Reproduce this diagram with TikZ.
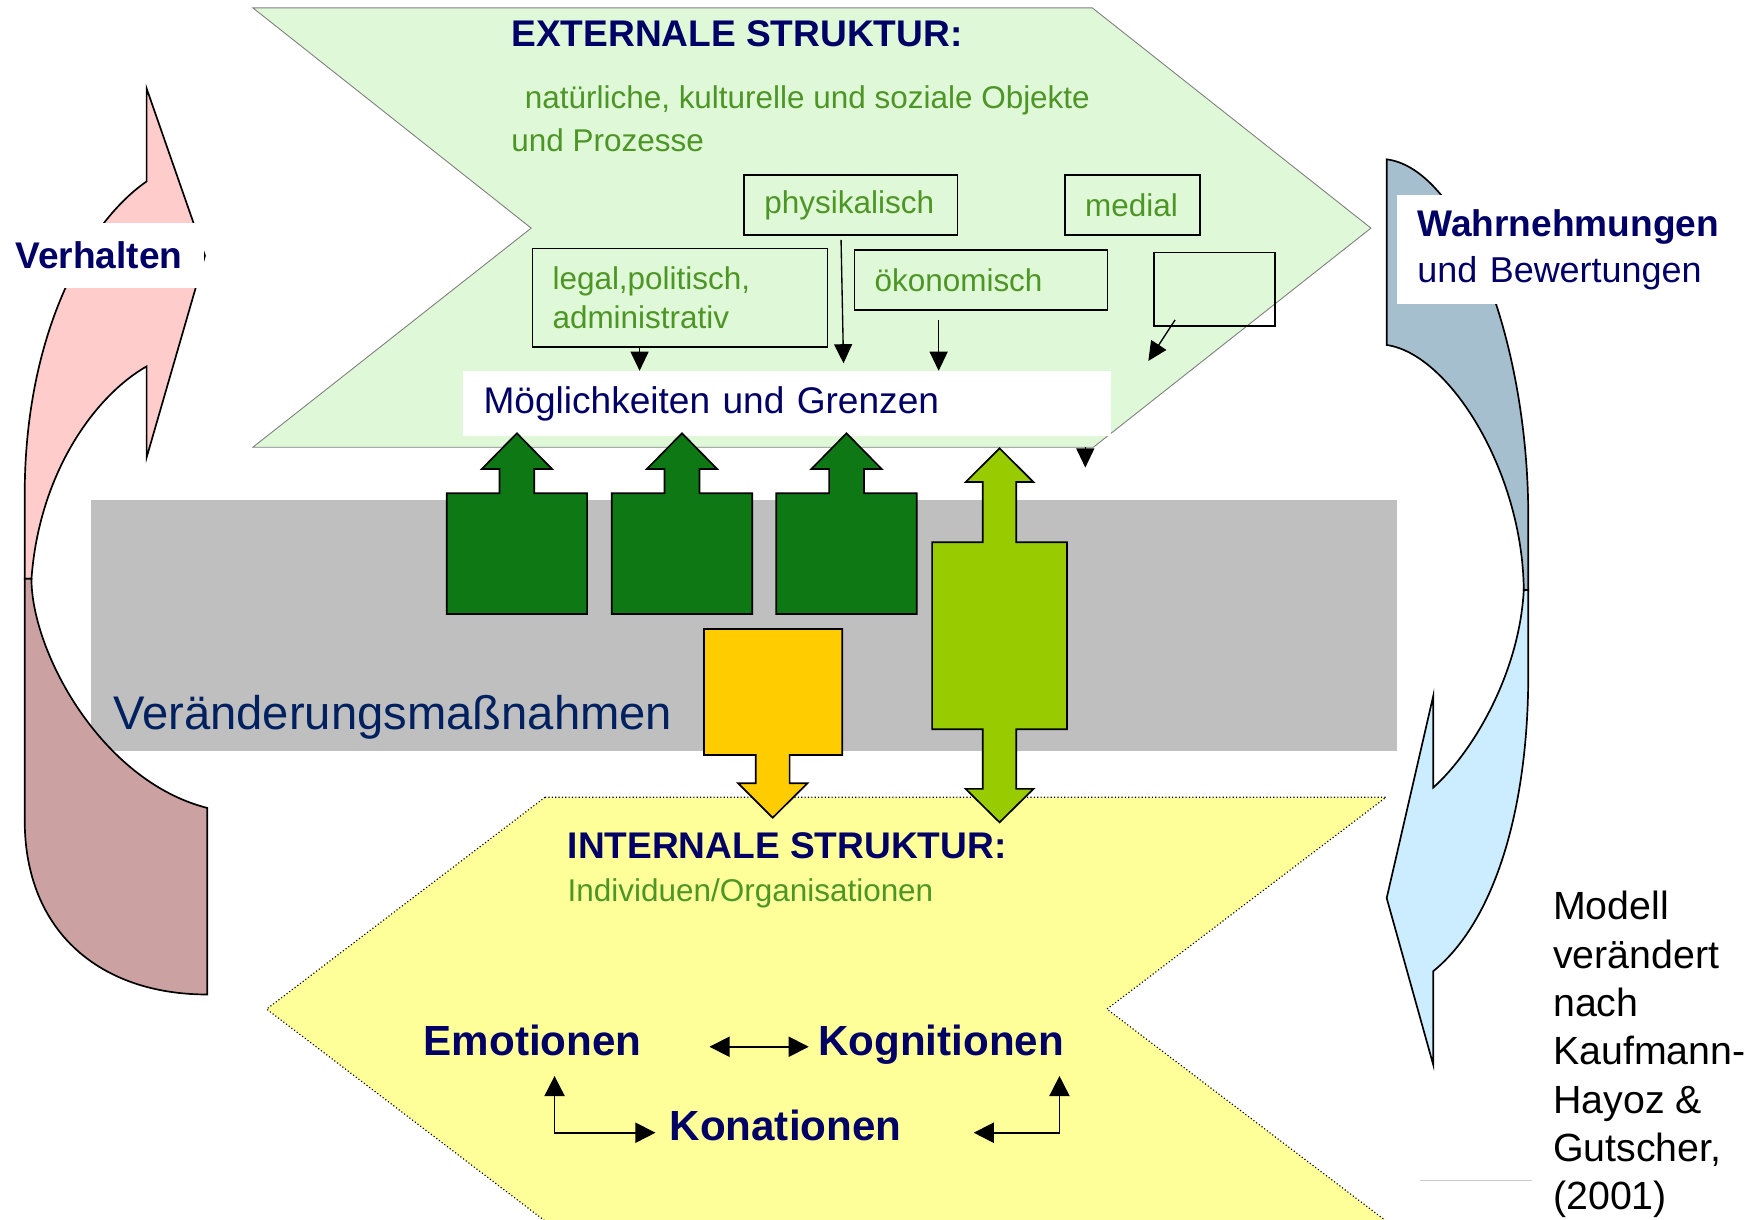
\documentclass[tikz,border=0pt]{standalone}
\usepackage{fontspec}
\setmainfont{Liberation Sans}
\usepackage{xcolor}
\usetikzlibrary{arrows.meta, positioning, calc}
\definecolor{extgreen}{RGB}{223,248,215}
\definecolor{intyellow}{RGB}{255,255,153}
\definecolor{bandgray}{RGB}{191,191,191}
\definecolor{navytext}{RGB}{0,0,102}
\definecolor{bandtext}{RGB}{0,32,96}
\definecolor{leafgreen}{RGB}{77,150,38}
\definecolor{darkgreen}{RGB}{14,120,20}
\definecolor{limegreen}{RGB}{153,204,0}
\definecolor{goldyellow}{RGB}{255,204,0}
\definecolor{pinkfront}{RGB}{255,204,204}
\definecolor{pinkback}{RGB}{204,161,161}
\definecolor{bluefront}{RGB}{204,236,255}
\definecolor{blueback}{RGB}{166,191,207}
\begin{document}
\begin{tikzpicture}[x=0.5pt, y=-0.5pt,
  factor/.style={draw, line width=0.7pt, anchor=north west, inner xsep=9pt, inner ysep=0pt, align=left, text=leafgreen, font=\fontsize{14}{17}\selectfont},
  whitebox/.style={fill=white, anchor=north west, inner ysep=0pt, align=left, text=navytext},
  heading/.style={anchor=base west, inner sep=0pt, text=navytext, font=\bfseries\fontsize{16.5}{20}\selectfont},
  psych/.style={anchor=base west, inner sep=0pt, text=navytext, font=\bfseries\fontsize{18.75}{22}\selectfont},
  feed/.style={->, >={Triangle[length=8.5pt,width=8pt]}, line width=0.6pt},
  link/.style={<->, >={Triangle[length=9pt,width=9pt]}, line width=0.8pt},
  blockarrow/.style={draw, line width=0.75pt},
  crescent/.style={draw, line width=0.75pt}]
\useasboundingbox (0,0) rectangle (1568,1085);

\draw[fill=extgreen, draw=gray, line width=0.4pt] (225,7) -- (972,7) -- (1220,203) -- (973,398) -- (225,398) -- (472.7,203) -- cycle;
\fill[bandgray] (81,445) rectangle (1243,668);
\draw[fill=intyellow, densely dotted, line width=0.5pt] (485,709.5) -- (1233.4,709.5) -- (985,898) -- (1233.4,1086.5) -- (485,1086.5) -- (237.3,898) -- cycle;

\node[factor, text width=76.85pt, minimum height=26.75pt] (phys) at (661.6,155) {physikalisch};
\node[factor, text width=42pt, minimum height=26.75pt] (medial) at (947,155) {medial};
\node[factor, text width=113.25pt, minimum height=43.8pt] (legal) at (473,220.4) {legal,politisch,\\administrativ};
\node[factor, text width=94.6pt, minimum height=26.7pt] (oekon) at (759.6,221.9) {ökonomisch};
\node[factor, text width=35.7pt, minimum height=32.6pt] (blank) at (1026.4,224) {};
\node[whitebox, text width=270.25pt, minimum height=28.85pt, inner xsep=9pt, font=\fontsize{16.5}{20}\selectfont] (moeg) at (411.9,330) {Möglichkeiten und Grenzen};

\draw[feed] ([xshift=-17.9pt]legal.south) -- ([xshift=-17.9pt]legal.south |- moeg.north);
\draw[feed] ($(phys.south)+(-8.7,3.5)$) -- ($(phys.south |- moeg.north)+(-6.5,-6.7)$);
\draw[feed] ($(oekon.south)+(-37.6,8)$) -- ($(oekon.south |- moeg.north)+(-37.6,0)$);
\draw[feed] ($(blank.south west)+(19.3,-5.9)$) -- ($(blank.south west)+(-4.5,30.6)$);
\draw[feed] ($(moeg.south east)+(-23.4,9.3)$) -- ($(moeg.south east)+(-23.4,27.6)$);

\foreach \cx in {460,606.9,753.3}
  \draw[blockarrow, fill=darkgreen] (\cx-62.5,546.4) -- (\cx+62.5,546.4) -- (\cx+62.5,439) -- (\cx+15.5,439) -- (\cx+15.5,417.4) -- (\cx+31.3,417.4) -- (\cx,385.6) -- (\cx-31.3,417.4) -- (\cx-15.5,417.4) -- (\cx-15.5,439) -- (\cx-62.5,439) -- cycle;
\draw[blockarrow, fill=goldyellow] (626.5,559.8) -- (749.5,559.8) -- (749.5,671.9) -- (702.7,671.9) -- (702.7,697) -- (718.6,697) -- (687.6,727.7) -- (656.8,697) -- (672.5,697) -- (672.5,671.9) -- (626.5,671.9) -- cycle;
\draw[blockarrow, fill=limegreen] (889.5,399) -- (919.7,429) -- (904.4,429) -- (904.4,482.6) -- (949.5,482.6) -- (949.5,649) -- (904.4,649) -- (904.4,702) -- (919.7,702) -- (889.5,731.8) -- (859.3,702) -- (874.6,702) -- (874.6,649) -- (829.5,649) -- (829.5,482.6) -- (874.6,482.6) -- (874.6,429) -- (859.3,429) -- cycle;

\draw[crescent, fill=pinkfront] (130.5,78.8) -- (182.4,227.6) -- (130.5,407) -- (130.5,326) .. controls (85,352) and (35,420) .. (28,515) -- (22,515) -- (22,440) .. controls (22,300) and (75,200) .. (130.5,161.4) -- cycle;
\draw[crescent, fill=pinkback] (22,515) -- (22,730) .. controls (22,830) and (90,885) .. (184.5,885) -- (184.5,719) .. controls (90,695) and (28,580) .. (28,515) -- cycle;
\draw[crescent, fill=blueback] (1234,141.8) .. controls (1300,150) and (1360,300) .. (1360,460) -- (1360,525) -- (1356,525) .. controls (1355,420) and (1290,315) .. (1234,307) -- cycle;
\draw[crescent, fill=bluefront] (1360,525) -- (1360,600) .. controls (1360,720) and (1330,820) .. (1275.5,864.2) -- (1275.5,947.8) -- (1234,799.2) -- (1275.5,619) -- (1275.5,700.8) .. controls (1310,670) and (1352,600) .. (1356,525) -- cycle;

\node[whitebox, text width=78.95pt, minimum height=29pt, inner xsep=5.15pt, font=\bfseries\fontsize{16.5}{20}\selectfont] (verhalten) at (3,198) {Verhalten};
\node[whitebox, text width=140.5pt, minimum height=48.5pt, inner xsep=9pt, font=\fontsize{16.5}{20.5}\selectfont] (wahr) at (1243,173) {{\bfseries Wahrnehmungen}\\{\fontsize{16}{20.5}\selectfont und Bewertungen}};

\node[heading] (ext) at (454.7,41.5) {EXTERNALE STRUKTUR:};
\node[anchor=base west, inner sep=0pt, text=leafgreen, align=left, font=\fontsize{14}{19.3}\selectfont] (objekte) at (454.7,135) {\hspace*{6pt}natürliche, kulturelle und soziale Objekte\\und Prozesse};
\node[anchor=base west, inner sep=0pt, text=bandtext, font=\fontsize{21}{25}\selectfont] (massn) at (100.5,648.8) {Veränderungsmaßnahmen};
\node[heading] (int) at (504.8,763.8) {INTERNALE STRUKTUR:};
\node[anchor=base west, inner sep=0pt, text=leafgreen, font=\fontsize{14}{17}\selectfont] (indiv) at (504.8,802.4) {Individuen/Organisationen};
\node[psych] (emo) at (376.8,939) {Emotionen};
\node[psych] (kog) at (727.7,939) {Kognitionen};
\node[psych] (kon) at (595.5,1015) {Konationen};
\draw[link] ($(emo.base east)+(60,-7.5)$) -- ($(kog.base west)+(-8,-7.5)$);
\draw[link] ($(emo.base west)+(116.7,18.5)$) |- ($(kon.base west)+(-12.2,-7)$);
\draw[link] ($(kon.base east)+(64,-7)$) -| ($(kog.base east)+(-4.4,18.5)$);

\node[anchor=base west, inner sep=0pt, align=left, font=\fontsize{17.5}{21.5}\selectfont] (quelle) at (1381.8,1076.5) {Modell\\verändert\\nach\\Kaufmann-\\Hayoz \&\\Gutscher,\\(2001)};
\draw[gray!40, line width=0.6pt] (1263.7,1050.4) -- (1363,1050.4);
\end{tikzpicture}
\end{document}
